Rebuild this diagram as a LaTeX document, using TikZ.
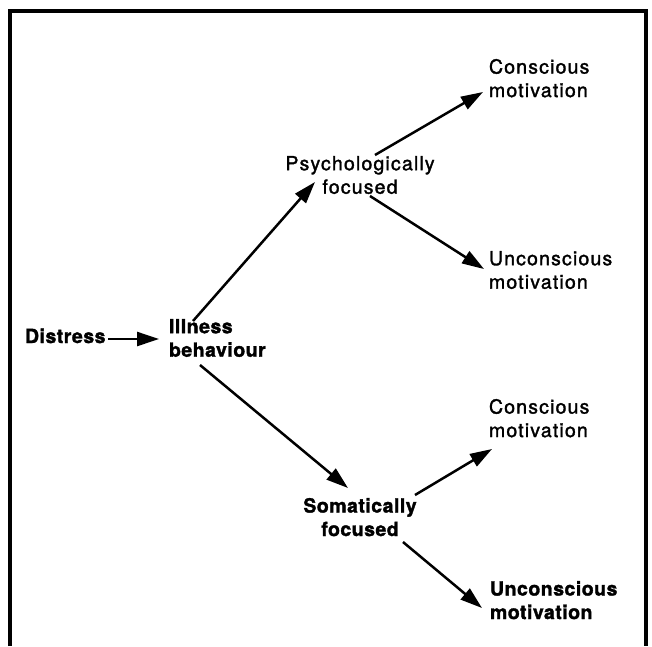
\documentclass[tikz,border=0pt]{standalone}
\usepackage{fontspec}
\newfontfamily\rfam[LetterSpace=6,FakeBold=1.6]{texgyreheros-regular.otf}
\newfontfamily\bfam[LetterSpace=2.5,FakeBold=1.6]{texgyreheros-bold.otf}
\usetikzlibrary{arrows.meta}
\tikzset{
 lbl/.style={inner sep=0pt, outer sep=0pt, font=\rfam\fontsize{19.5}{23.5}\selectfont},
 lblb/.style={inner sep=0pt, outer sep=0pt, font=\bfam\fontsize{19.5}{23.5}\selectfont},
 arr/.style={line width=2.5pt, -{Triangle[length=22pt,width=14pt]}},
 frame/.style={line width=3.8pt},
}
\begin{document}
\begin{tikzpicture}[x=1pt,y=-1pt]
\useasboundingbox (0,0) rectangle (652,646);
\draw[frame] (10,646) -- (10,11.2) -- (646.2,11.2) -- (646.2,646);

\node[lblb, anchor=base west] (dist) at (25,343) {Distress};
\node[lblb, anchor=north west, align=left] (ill) at (169,319) {Illness\\behaviour};
\node[lbl, anchor=north, align=center] (psy) at (360,156) {Psychologically\\focused};
\node[lblb, anchor=north, align=center] (som) at (360,498) {Somatically\\focused};
\node[lbl, anchor=north west, align=left] (c1) at (489,59) {Conscious\\motivation};
\node[lbl, anchor=north west, align=left] (u1) at (489,251) {Unconscious\\motivation};
\node[lbl, anchor=north west, align=left] (c2) at (489,399) {Conscious\\motivation};
\node[lblb, anchor=north west, align=left] (u2) at (490,581) {Unconscious\\motivation};

\draw[arr] ([shift={(3,-4)}]dist.base east) -- ([shift={(-10,20)}]ill.north west);
\draw[arr] ([shift={(24,2)}]ill.north west) -- ([shift={(-45,26)}]psy.north);
\draw[arr] ([shift={(31,46)}]ill.north west) -- ([shift={(-12,-10)}]som.north);
\draw[arr] ([shift={(15,-1)}]psy.north) -- ([shift={(-6,33)}]c1.north west);
\draw[arr] ([shift={(10,40)}]psy.north) -- ([shift={(-5,18)}]u1.north west);
\draw[arr] ([shift={(55,-3)}]som.north) -- ([shift={(3,50)}]c2.north west);
\draw[arr] ([shift={(43,44)}]som.north) -- ([shift={(-8,27)}]u2.north west);
\end{tikzpicture}
\end{document}
